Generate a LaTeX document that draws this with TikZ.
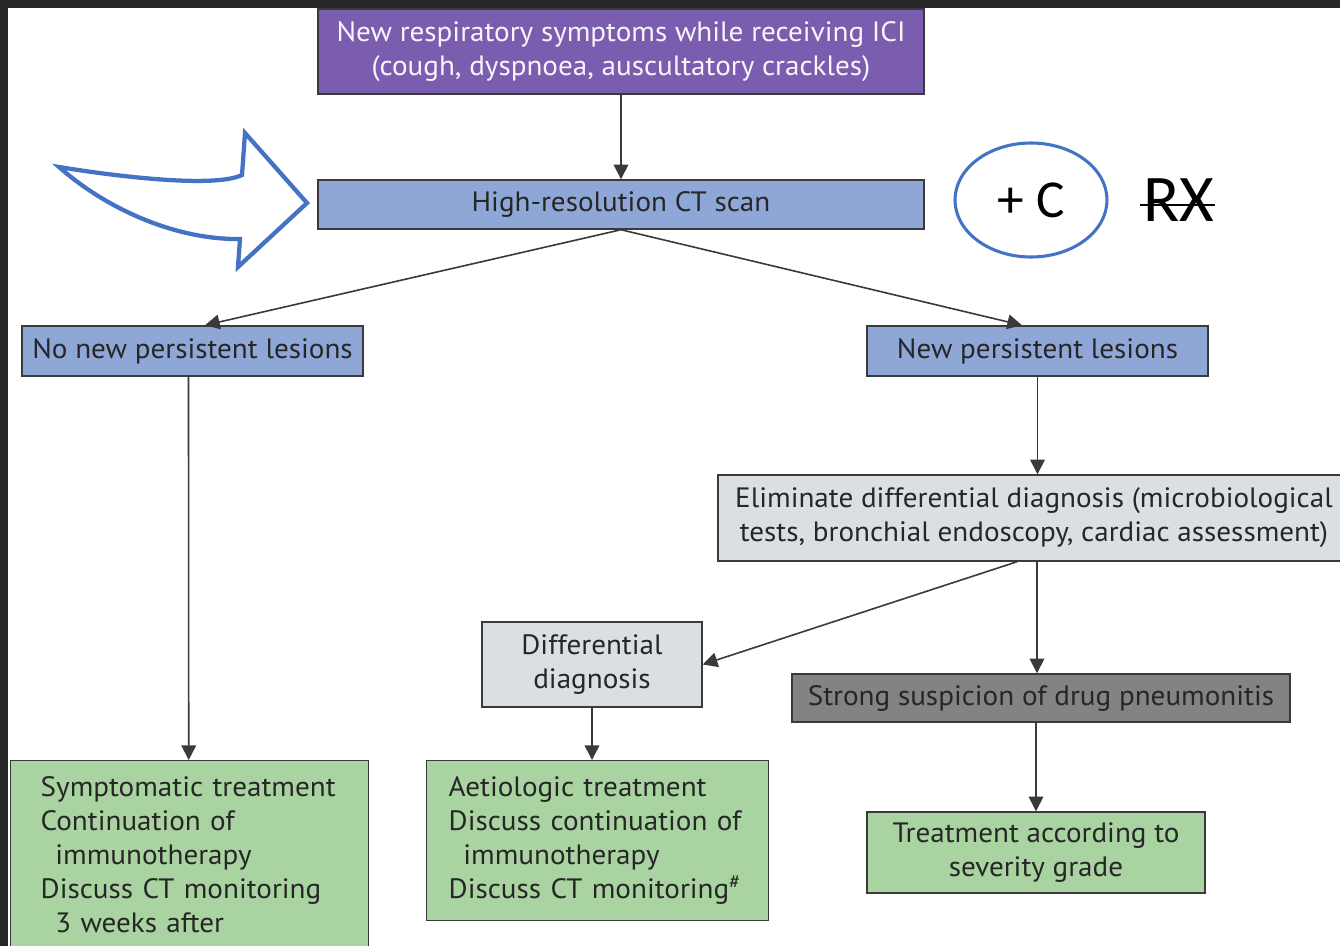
\documentclass[tikz,border=0pt]{standalone}
\usepackage{fontspec}
\setmainfont[FakeStretch=1.04]{PT Sans}
\newfontfamily\calib{Carlito}
\usetikzlibrary{arrows.meta,calc,shapes.geometric}
\definecolor{purp}{HTML}{7A5DAE}
\definecolor{bluebox}{HTML}{8EA7D6}
\definecolor{lgray}{HTML}{DCDFE2}
\definecolor{dgray}{HTML}{838383}
\definecolor{gbox}{HTML}{A9D4A1}
\definecolor{edge}{HTML}{3A3A3A}
\definecolor{txt}{HTML}{262626}
\definecolor{callout}{HTML}{4472C4}
\definecolor{band}{HTML}{262626}
\begin{document}
\begin{tikzpicture}[x=0.75pt,y=-0.75pt,
  box/.style={draw=edge,line width=1.1pt,inner sep=0pt,text=txt,
    font=\fontsize{21}{25.5}\selectfont,align=center},
  gbx/.style={box,fill=gbox,align=left,anchor=north west},
  conn/.style={draw=edge,line width=1.2pt,-{Triangle[length=11pt,width=11pt]}},
]
\useasboundingbox (0,0) rectangle (1340,946);
\clip (0,0) rectangle (1340,946);
\fill[white] (0,0) rectangle (1340,946);
\fill[band] (0,0) rectangle (1340,8);
\fill[band] (0,0) rectangle (8,946);

% nodes
\node[box,fill=purp,text=white!94!purp,minimum width=454.5pt,minimum height=63.75pt] (sym) at (621,51.5)
  {New respiratory symptoms while receiving ICI\\(cough, dyspnoea, auscultatory crackles)};
\node[box,fill=bluebox,minimum width=454.5pt,minimum height=36.75pt] (hrct) at (621,204.5)
  {High-resolution CT scan};
\node[box,fill=bluebox,minimum width=255.75pt,minimum height=37.5pt] (nonew) at (192.5,351)
  {No new persistent lesions};
\node[box,fill=bluebox,minimum width=255.75pt,minimum height=37.5pt] (newp) at (1037.5,351)
  {New persistent lesions};
\node[box,fill=lgray,minimum width=474pt,minimum height=64.5pt] (elim) at (1034,518)
  {Eliminate differential diagnosis (microbiological\\tests, bronchial endoscopy, cardiac assessment)};
\node[box,fill=lgray,minimum width=165pt,minimum height=63.75pt] (diff) at (592,664.5)
  {Differential\\diagnosis};
\node[box,fill=dgray,minimum width=373.5pt,minimum height=36pt] (strong) at (1041,698)
  {Strong suspicion of drug pneumonitis};
\node[box,fill=gbox,minimum width=253.5pt,minimum height=60.75pt] (treat) at (1036,852.5)
  {Treatment according to\\severity grade};
\node[gbx,inner xsep=22.5pt,inner ysep=12pt,text width=223.5pt] (g1) at (10,760)
  {Symptomatic treatment\\Continuation of\\\hspace*{11pt}immunotherapy\\Discuss CT monitoring\\\hspace*{11pt}3 weeks after};
\node[gbx,inner xsep=16.5pt,inner ysep=12pt,text width=223.5pt] (g2) at (426,760)
  {Aetiologic treatment\\Discuss continuation of\\\hspace*{11pt}immunotherapy\\Discuss CT monitoring\textsuperscript{\#}};

% annotations
\node[draw=callout,line width=2.3pt,ellipse,inner sep=0pt,minimum width=114pt,minimum height=85.5pt,
  font=\calib\fontsize{40}{40}\selectfont] (pc) at (1031,200) {+ C};
\node[inner sep=0pt,font=\calib\fontsize{50}{50}\selectfont] (rx) at (1179,200) {RX};
\draw[line width=2.2pt] ($(rx.west)+(-3,5)$) -- ($(rx.east)+(0,5)$);
\draw[callout,line width=3.2pt,line join=miter,fill=white]
  (59,167) .. controls (120,177) and (215,188) .. (242,175) -- (245,133) -- (307,203)
  -- (238,267) -- (240,239) .. controls (180,240) and (110,212) .. (59,167) -- cycle;

% connectors
\draw[conn] (sym.south) -- (hrct.north);
\draw[conn] (hrct.south) -- ($(nonew.north)+(12.5,0)$);
\draw[conn] (hrct.south) -- ($(newp.north)+(-15.5,0)$);
\draw[conn] ($(nonew.south)+(-4,0)$) -- ($(g1.north)+(-1,0)$ |- g1.north);
\draw[conn] (newp.south) -- (newp.south |- elim.north);
\draw[conn] ($(elim.south)+(-17,0)$) -- (diff.east);
\draw[conn] ($(elim.south)+(3,0)$) coordinate (e1) -- (e1 |- strong.north);
\draw[conn] (strong.south -| treat.north) -- (treat.north);
\draw[conn] (diff.south) -- (diff.south |- g2.north);
\end{tikzpicture}
\end{document}
